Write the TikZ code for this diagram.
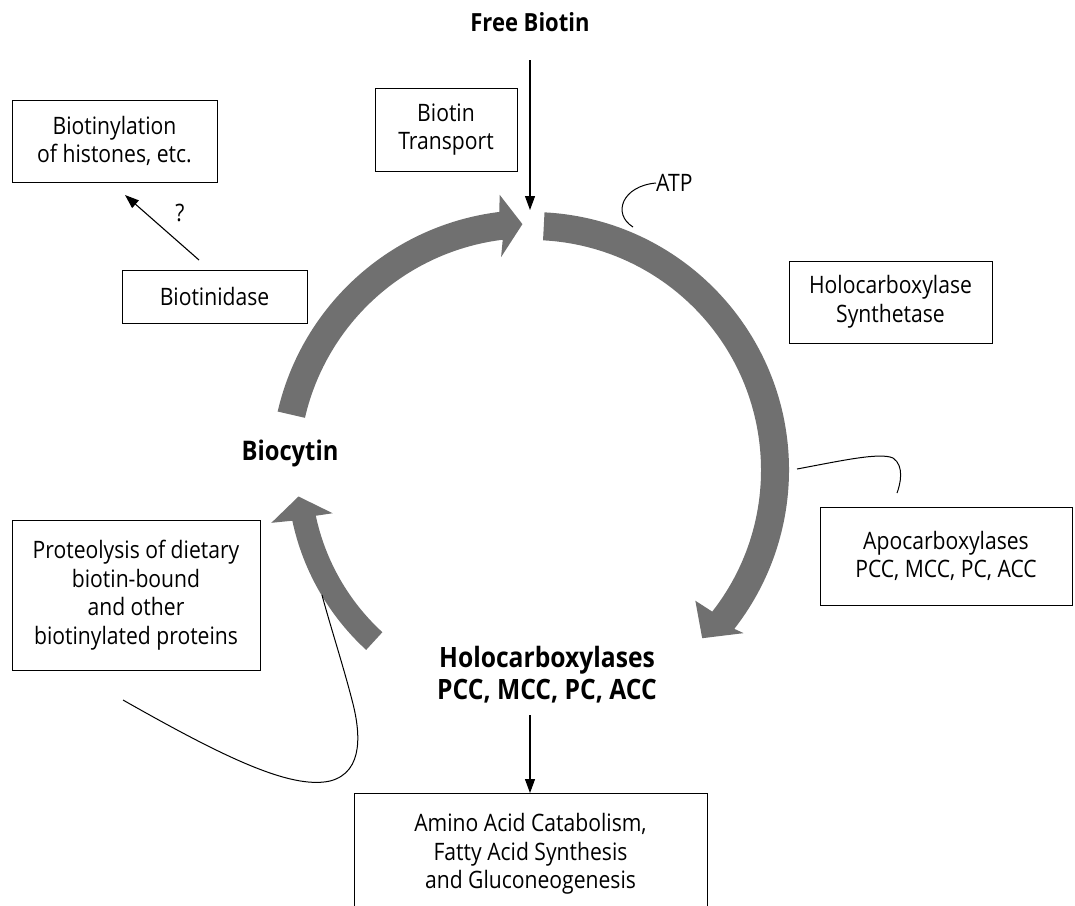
\documentclass[tikz,border=0pt]{standalone}
\usepackage{fontspec}
\setmainfont{Open Sans}[FakeStretch=0.88]
\usetikzlibrary{arrows.meta,calc}
\definecolor{band}{RGB}{112,112,112}
\begin{document}
\begin{tikzpicture}[x=1pt,y=-1pt,
  box/.style={draw,line width=0.9pt,align=center,inner sep=0pt,font=\fontsize{24}{28.5}\selectfont},
  plain/.style={align=center,inner sep=0pt,font=\fontsize{24}{28.5}\selectfont},
  boldlbl/.style={align=center,inner sep=0pt,font=\bfseries\fontsize{27}{32}\selectfont},
  conn/.style={line width=1pt},
  arr/.style={line width=1.1pt,-{Triangle[length=14pt,width=10pt]}}]
\useasboundingbox (0,0) rectangle (1075,905);
\clip (0,0) rectangle (1075,905);
\coordinate (C) at (531,470);

% cycle arrows
\fill[band] ($(C)+(167:260pt)$) arc[start angle=167,end angle=97,radius=260pt]
  -- ($(C)+(96.5:277pt)$) -- ($(C)+(92:246pt)$) -- ($(C)+(98:215pt)$)
  -- ($(C)+(97:232pt)$) arc[start angle=97,end angle=167,radius=232pt] -- cycle;
\fill[band] ($(C)+(87:258pt)$) arc[start angle=87,end angle=-38,radius=258pt]
  -- ($(C)+(-37.5:268pt)$) -- ($(C)+(-44.5:240pt)$) -- ($(C)+(-38.5:210pt)$)
  -- ($(C)+(-38:230pt)$) arc[start angle=-38,end angle=87,radius=230pt] -- cycle;
\fill[band] ($(C)+(227.5:244pt)$) arc[start angle=227.5,end angle=192,radius=244pt]
  -- ($(C)+(191.5:265pt)$) -- ($(C)+(186.5:234pt)$) -- ($(C)+(192.3:203pt)$)
  -- ($(C)+(192:220pt)$) arc[start angle=192,end angle=227.5,radius=220pt] -- cycle;

% boxes
\node[box,minimum width=205pt,minimum height=82pt] (hist) at (114.5,141) {Biotinylation\\of histones, etc.};
\node[box,minimum width=142pt,minimum height=83pt] (trans) at (446,129.5) {Biotin\\Transport};
\node[box,minimum width=185pt,minimum height=53pt] (bidase) at (214.5,296.5) {Biotinidase};
\node[box,minimum width=203pt,minimum height=82pt] (hcs) at (890.5,302) {Holocarboxylase\\Synthetase};
\node[box,minimum width=252pt,minimum height=98pt] (apo) at (946,556) {Apocarboxylases\\PCC, MCC, PC, ACC};
\node[box,minimum width=248pt,minimum height=150pt] (prot) at (136,595) {Proteolysis of dietary\\biotin-bound\\and other\\biotinylated proteins};
\node[plain] (bot) at (530.5,854) {Amino Acid Catabolism,\\Fatty Acid Synthesis\\and Gluconeogenesis};
\draw[line width=0.9pt] (354,910) |- (707,793) -- (707,910);
\coordinate (bottop) at (530,793);

% labels
\node[boldlbl,font=\bfseries\fontsize{25}{30}\selectfont] (free) at (530,22) {Free Biotin};
\node[boldlbl] (biocytin) at (290,453) {Biocytin};
\node[boldlbl,font=\bfseries\fontsize{28}{32}\selectfont] (holo) at (547,675) {Holocarboxylases\\PCC, MCC, PC, ACC};
\node[plain,anchor=west] (atp) at (656,183) {ATP};
\node[plain] (q) at (180,213) {?};

% connectors
\coordinate (freeend) at (530,60);
\coordinate (gap) at (530,210);
\draw[arr] (freeend) -- (gap);
\coordinate (bidtop) at (199,260);
\coordinate (histbot) at (125,195);
\draw[arr] (bidtop) -- (histbot);
\coordinate (holobot) at (530,715);
\draw[arr] (holobot) -- (bottop);
\coordinate (atpband) at (633,227);
\draw[conn] (atpband) .. controls (612,214) and (622,186) .. (atp.west);
\coordinate (apoband) at (797,469);
\coordinate (apotop) at (897,493);
\draw[conn] (apoband) .. controls (840,461) and (880,452) .. (893,458) .. controls (905,466) and (900,485) .. (apotop);
\coordinate (protstart) at (123,700);
\coordinate (protband) at (322,595);
\draw[conn] (protstart) .. controls (220,755) and (290,790) .. (330,781) .. controls (365,772) and (360,730) .. (352,700) .. controls (343,665) and (330,625) .. (protband);
\end{tikzpicture}
\end{document}
